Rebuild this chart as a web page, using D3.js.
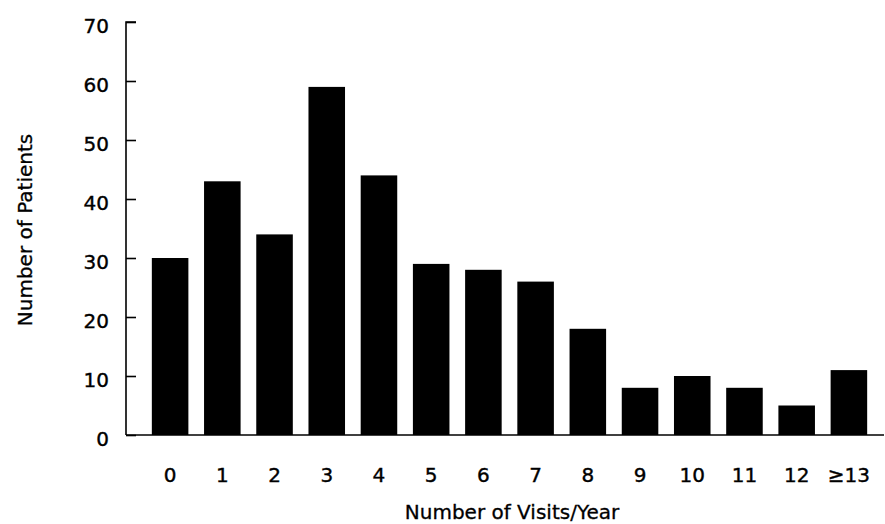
<!DOCTYPE html>
<html>
<head>
<meta charset="utf-8">
<script src="https://cdn.jsdelivr.net/npm/d3@7"></script>
<style>
  html, body { margin: 0; padding: 0; background: #fff; }
  svg { display: block; }
  text { font-family: "DejaVu Sans", "Liberation Sans", Arial, sans-serif; fill: #000; }
</style>
</head>
<body>
<svg id="chart" width="885" height="524"></svg>
<script>
const categories = ["0", "1", "2", "3", "4", "5", "6", "7", "8", "9", "10", "11", "12", "\u226513"];
const patients = [30, 43, 34, 59, 44, 29, 28, 26, 18, 8, 10, 8, 5, 11];
const yTicks = [0, 10, 20, 30, 40, 50, 60, 70];
const xTitle = "Number of Visits/Year";
const yTitle = "Number of Patients";

const svg = d3.select("#chart");
const axisX0 = 126, axisY0 = 435, axisXEnd = 884;

const y = d3.scaleLinear().domain([0, 70]).range([435, 22]);
const x = d3.scaleBand().domain(categories).range([144, 875]).paddingInner(0.3).paddingOuter(0.15);

// bars
svg.append("g").selectAll("rect").data(patients).join("rect")
  .attr("x", (d, i) => x(categories[i]))
  .attr("width", x.bandwidth())
  .attr("y", d => y(d))
  .attr("height", d => y(0) - y(d))
  .attr("fill", "#000");

// y axis
const yAxis = svg.append("g").attr("transform", `translate(${axisX0},0)`)
  .call(d3.axisRight(y).tickValues(yTicks).tickSize(10).tickFormat(""));
yAxis.select(".domain").attr("d", `M10,${y(70)}H0V${y(0)}`).attr("stroke", "#000").attr("stroke-width", 1.6).attr("fill", "none");
yAxis.selectAll(".tick line").attr("stroke", "#000").attr("stroke-width", 1.6);

svg.append("g").selectAll("text").data(yTicks).join("text")
  .attr("x", 109)
  .attr("y", d => y(d) + 4)
  .attr("dy", "0.36em")
  .attr("text-anchor", "end")
  .attr("font-size", 20)
  .attr("stroke", "#000").attr("stroke-width", 0.4)
  .text(d => d);

// x axis line
const xAxis = svg.append("g").attr("transform", `translate(0,${axisY0})`)
  .call(d3.axisBottom(x).tickSize(0).tickFormat(""));
xAxis.select(".domain").attr("d", `M${axisX0},0H${axisXEnd}`).attr("stroke", "#000").attr("stroke-width", 1.6);

svg.append("g").selectAll("text").data(categories).join("text")
  .attr("x", d => x(d) + x.bandwidth() / 2)
  .attr("y", 482)
  .attr("text-anchor", "middle")
  .attr("font-size", 20)
  .attr("stroke", "#000").attr("stroke-width", 0.4)
  .text(d => d);

// titles
svg.append("text")
  .attr("x", 512).attr("y", 519)
  .attr("text-anchor", "middle")
  .attr("font-size", 20)
  .attr("stroke", "#000").attr("stroke-width", 0.3)
  .text(xTitle);

svg.append("text")
  .attr("transform", "translate(32,230) rotate(-90)")
  .attr("text-anchor", "middle")
  .attr("font-size", 20)
  .attr("stroke", "#000").attr("stroke-width", 0.3)
  .text(yTitle);
</script>
</body>
</html>
